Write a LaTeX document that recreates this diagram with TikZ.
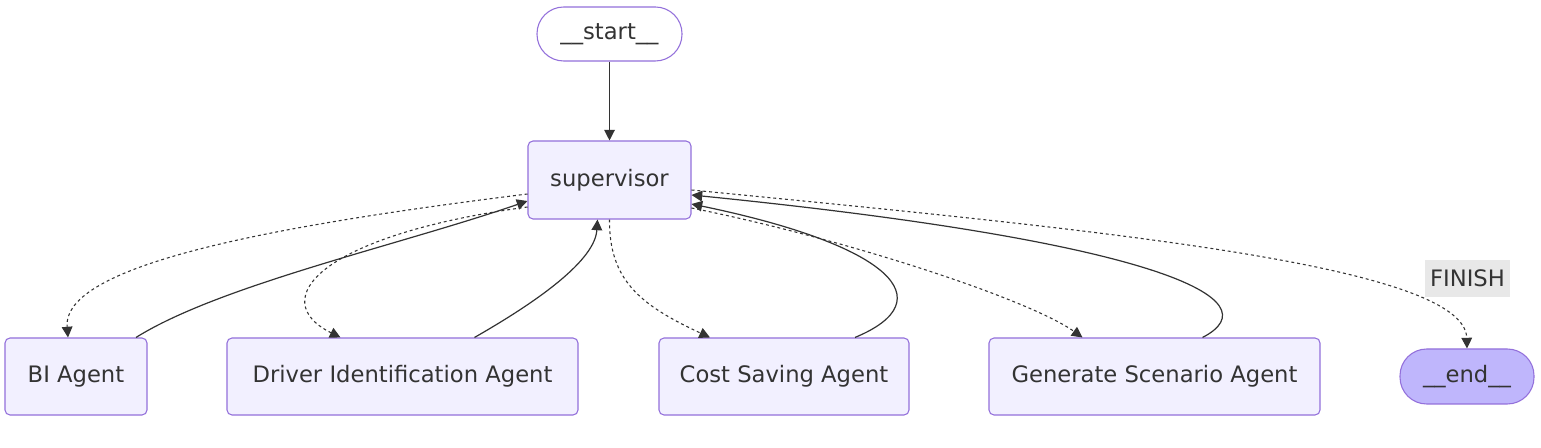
\documentclass[tikz,border=0pt]{standalone}
\usepackage{fontspec}
\setmainfont{DejaVu Sans}
\usetikzlibrary{arrows.meta,calc}
\definecolor{nodefill}{HTML}{F2F0FF}
\definecolor{nodeline}{HTML}{9370DB}
\definecolor{endfill}{HTML}{BFB6FC}
\definecolor{edgecol}{HTML}{333333}
\definecolor{labfill}{HTML}{E8E8E8}
\definecolor{txt}{HTML}{333333}
\begin{document}
\begin{tikzpicture}[x=0.75pt,y=-0.75pt,
  every node/.style={font=\fontsize{17}{20}\selectfont, text=txt},
  agentbox/.style={draw=nodeline, fill=nodefill, line width=0.8pt, rounded corners=3.75pt, minimum height=57.75pt, inner sep=0pt},
  pill/.style={draw=nodeline, line width=0.8pt, rounded corners=20pt, inner sep=0pt},
  solidedge/.style={draw=edgecol, line width=0.9pt, -{Triangle[length=8pt,width=8pt]}},
  dotedge/.style={draw=edgecol, line width=0.8pt, dash pattern=on 2.2pt off 2.2pt, -{Triangle[length=8pt,width=8pt]}},
  edgelabel/.style={fill=labfill, minimum width=63.75pt, minimum height=27.75pt, inner sep=0pt}
]
\useasboundingbox[fill=white] (0,0) rectangle (1541,448);

\node[pill, fill=white, minimum width=108.75pt, minimum height=40.5pt] (start) at (609.5,34) {\_\_start\_\_};
\node[agentbox, minimum width=122.25pt, minimum height=58.5pt] (sup) at (609.5,180) {supervisor};
\node[agentbox, minimum width=106.5pt] (bi) at (76,376.5) {BI Agent};
\node[agentbox, minimum width=263.25pt] (drv) at (402.5,376.5) {Driver Identification Agent};
\node[agentbox, minimum width=187.5pt] (cost) at (784,376.5) {Cost Saving Agent};
\node[agentbox, minimum width=248.25pt] (gen) at (1154.5,376.5) {Generate Scenario Agent};
\node[pill, fill=endfill, minimum width=100.5pt, minimum height=41.25pt] (end) at (1467,376.5) {\_\_end\_\_};

\draw[solidedge] (start) -- (sup);

\draw[dotedge] ($(sup.west)+(0,14)$) .. controls (270,226) and (62,265) .. ($(bi.north)+(-8,0)$);
\draw[solidedge] ($(bi.north)+(60,0)$) .. controls (220,285) and (400,245) .. ($(sup.west)+(0,21)$);
\draw[dotedge] ($(sup.west)+(0,27)$) .. controls (320,235) and (265,300) .. ($(drv.north)+(-62,0)$);
\draw[solidedge] ($(drv.north)+(72,0)$) .. controls (540,300) and (595,260) .. ($(sup.south)+(-12,0)$);
\draw[dotedge] (sup.south) .. controls (609,280) and (640,305) .. ($(cost.north)+(-74,0)$);
\draw[solidedge] ($(cost.north)+(71,0)$) .. controls (945,300) and (890,245) .. ($(sup.east)+(0,24)$);
\draw[dotedge] ($(sup.east)+(0,28)$) .. controls (850,240) and (1030,300) .. ($(gen.north)+(-72,0)$);
\draw[solidedge] ($(gen.north)+(48,0)$) .. controls (1275,300) and (1160,242) .. ($(sup.east)+(0,15)$);
\draw[dotedge] ($(sup.east)+(0,10)$) .. controls (1100,230) and (1465,265) .. (end.north);

\node[edgelabel] (finish) at (1467.5,278.5) {FINISH};
\end{tikzpicture}
\end{document}
